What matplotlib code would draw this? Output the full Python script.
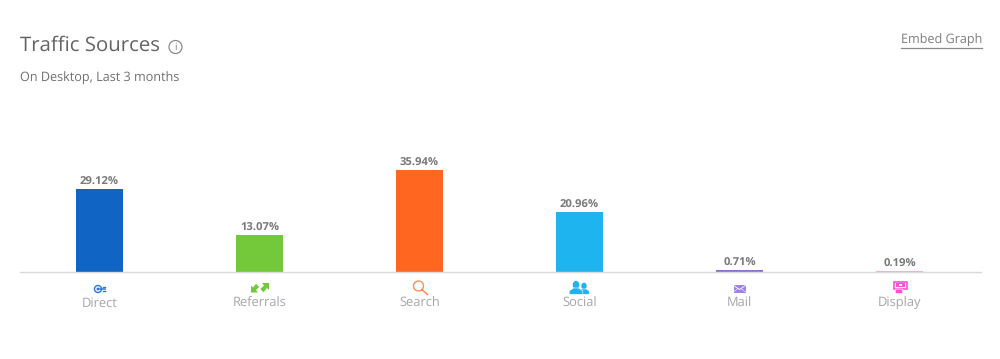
"""Traffic sources bar chart, with the small category icons drawn as patches."""

import matplotlib
matplotlib.use("Agg")
import matplotlib.pyplot as plt
from matplotlib.patches import Circle, Rectangle, Polygon, FancyBboxPatch, Ellipse

plt.rcParams["font.family"] = ["Open Sans", "DejaVu Sans"]
plt.rcParams["text.hinting"] = "no_hinting"

# ---------------------------------------------------------------------------
# Data
# ---------------------------------------------------------------------------
SOURCES = ["Direct", "Referrals", "Search", "Social", "Mail", "Display"]
SHARES = [29.12, 13.07, 35.94, 20.96, 0.71, 0.19]
COLORS = ["#1065c4", "#74c93b", "#ff6720", "#1eb4ef", "#8a6fd8", "#fb50d8"]

W, H = 1000, 359
BASE_Y = 272
PX_PER_UNIT = 2.84


# ---------------------------------------------------------------------------
# Icons (pixel coordinates, y down, centred on cx)
# ---------------------------------------------------------------------------
def icon_direct(ov, cx, c):
    c = "#2a78d8"
    ov.add_patch(Circle((cx - 1.5, 289), 3.5, fc="none", ec=c, lw=1.0))
    ov.add_patch(Circle((cx - 1.5, 289), 1.5, fc=c, ec="none"))
    ov.plot([cx, cx + 5.5], [289, 289], color=c, lw=1.1)
    ov.plot([cx + 3, cx + 5.5], [287.2, 287.2], color=c, lw=1.0)
    ov.plot([cx + 3, cx + 5.5], [290.8, 290.8], color=c, lw=1.0)


def icon_referrals(ov, cx, c):
    ov.add_patch(Polygon([(cx - 8.5, 292.5), (cx - 8.5, 285.5), (cx - 6.5, 287.5), (cx - 3.5, 283.8),
                          (cx - 0.3, 287), (cx - 3.5, 290), (cx - 1.5, 292.5)], fc=c, ec="none"))
    ov.add_patch(Polygon([(cx + 9.5, 283), (cx + 9.5, 290), (cx + 7.5, 288), (cx + 4, 292.3),
                          (cx + 0.8, 289), (cx + 4.5, 285.5), (cx + 2.5, 283)], fc=c, ec="none"))


def icon_search(ov, cx, c):
    ov.add_patch(Circle((cx - 1, 286), 5, fc="none", ec=c, lw=1.0, alpha=0.75))
    ov.plot([cx + 2.5, cx + 8], [289.7, 294.5], color=c, lw=1.1, alpha=0.75)


def icon_social(ov, cx, c):
    for dx, head_y, rw, rh, half, head_top in [(4.5, 286, 2.7, 3.3, 5.2, 289), (-3.5, 284.9, 3.3, 4.0, 6.8, 288)]:
        ov.add_patch(Ellipse((cx + dx, head_y), rw * 2, rh * 2, fc=c, ec="none"))
        ov.add_patch(Polygon([(cx + dx - half, 294.3), (cx + dx - half, 291),
                              (cx + dx - 2.5, head_top), (cx + dx + 2.5, head_top),
                              (cx + dx + half, 291), (cx + dx + half, 294.3)],
                             fc=c, ec="white", lw=0.4))


def icon_mail(ov, cx, c):
    ov.add_patch(Rectangle((cx - 6, 285), 12, 7.5, fc=c, ec="none", alpha=0.85))
    ov.plot([cx - 6, cx, cx + 6], [285.5, 289.5, 285.5], color="white", lw=0.6)
    ov.plot([cx - 6, cx - 1.5], [292, 288.5], color="white", lw=0.4)
    ov.plot([cx + 6, cx + 1.5], [292, 288.5], color="white", lw=0.4)


def icon_display(ov, cx, c):
    ov.add_patch(Rectangle((cx - 6, 281.5), 13, 7.5, fc="none", ec=c, lw=1.2))
    ov.add_patch(Rectangle((cx - 4, 283.2), 9, 3.5, fc=c, ec="none"))
    ov.add_patch(Rectangle((cx - 0.5, 283.8), 2.6, 1.8, fc="white", ec="none"))
    ov.add_patch(FancyBboxPatch((cx - 3.7, 289.5), 6.4, 3.6, boxstyle="round,pad=0.4",
                                fc=c, ec="white", lw=0.4))


ICONS = [icon_direct, icon_referrals, icon_search, icon_social, icon_mail, icon_display]


# ---------------------------------------------------------------------------
# Figure
# ---------------------------------------------------------------------------
def main():
    fig = plt.figure(figsize=(W / 100, H / 100), dpi=100, facecolor="white")

    ymax = 40
    ax = fig.add_axes([20 / W, (H - BASE_Y) / H, 961 / W, ymax * PX_PER_UNIT / H])
    x = list(range(len(SOURCES)))
    bars = ax.bar(x, SHARES, width=47 / 160, color=COLORS, zorder=2)
    bars[-1].set_snap(False)
    ax.set_xlim(-79.5 / 160, -79.5 / 160 + 961 / 160)
    ax.set_ylim(0, ymax)
    ax.patch.set_alpha(0)
    for side in ("top", "left", "right"):
        ax.spines[side].set_visible(False)
    ax.spines["bottom"].set_color("#d9d9d9")
    ax.spines["bottom"].set_linewidth(1.0)
    ax.set_yticks([])
    ax.set_xticks(x)
    ax.set_xticklabels(SOURCES, fontsize=9.3, color="#a4a6a9")
    ax.tick_params(axis="x", length=0, pad=18.2)

    for xi, val in zip(x, SHARES):
        ax.annotate(f"{val:.2f}%", (xi, val), xytext=(0, 1.3), textcoords="offset points",
                    ha="center", va="bottom", fontsize=8.1, fontweight="bold", color="#7a7a7a")

    # pixel overlay for header text and icons
    ov = fig.add_axes([0, 0, 1, 1])
    ov.set_xlim(0, W)
    ov.set_ylim(H, 0)
    ov.axis("off")
    ov.patch.set_alpha(0)

    ov.text(20, 46, "Traffic Sources", fontsize=14.7, color="#636363", va="center", ha="left")
    ov.text(20, 77.5, "On Desktop, Last 3 months", fontsize=9.1, color="#707070", va="center", ha="left")

    ov.add_patch(Circle((175.5, 47), 6.5, fc="none", ec="#8a8a8a", lw=0.9))
    ov.text(175.5, 47, "i", fontsize=7, color="#7a7a7a", ha="center", va="center")

    ov.text(982, 40, "Embed Graph", fontsize=9.1, color="#7d7d7d", va="center", ha="right")
    ov.plot([901, 982], [47.5, 47.5], color="#8a8a8a", lw=0.9)

    for xi, draw, col in zip(x, ICONS, COLORS):
        cx = ov.transData.inverted().transform(ax.transData.transform((xi, 0)))[0]
        draw(ov, cx, col)

    fig.savefig("out.png", dpi=100)


if __name__ == "__main__":
    main()
